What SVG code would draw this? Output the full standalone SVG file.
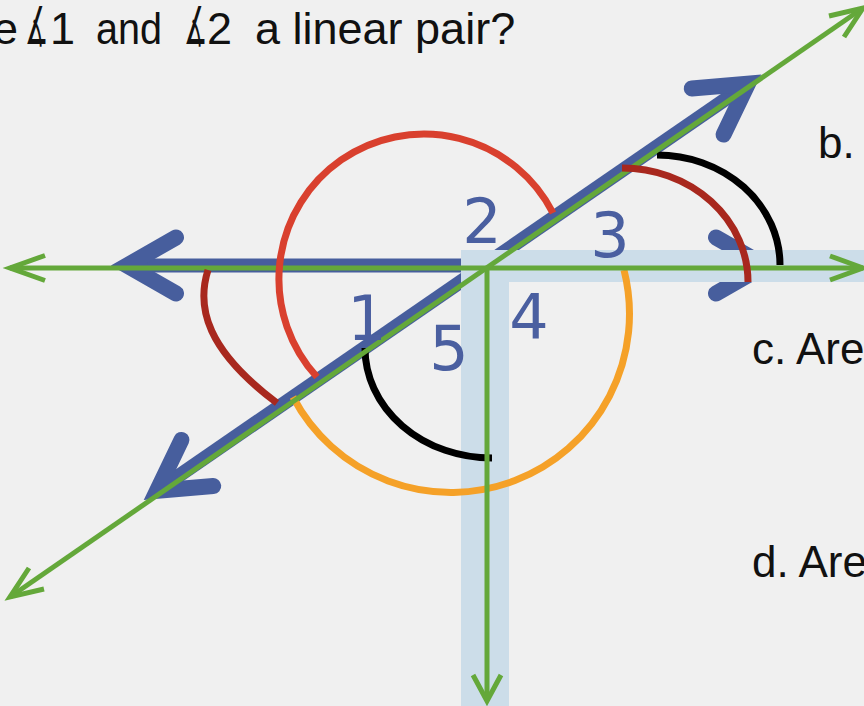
<svg xmlns="http://www.w3.org/2000/svg" xmlns:xlink="http://www.w3.org/1999/xlink" width="864" height="706" viewBox="0 0 864 706">
  <style>
    .txt { font-family: "Liberation Sans", Arial, "DejaVu Sans", sans-serif; fill: #111; }
    .ang { font-family: "DejaVu Sans", sans-serif; fill: #111; font-size: 52px; }
    .num { font-family: "DejaVu Sans", Verdana, sans-serif; font-size: 62px; fill: #4A5FA0; text-anchor: middle; }
    .blue { fill: none; stroke: #475E9D; stroke-width: 14; }
    .bah { fill: none; stroke: #475E9D; stroke-width: 16; stroke-linecap: round; stroke-linejoin: miter; stroke-miterlimit: 6; }
    .green { fill: none; stroke: #64A83A; stroke-width: 5; stroke-linejoin: miter; stroke-miterlimit: 6; }
    .arc { fill: none; stroke-width: 7; stroke-linecap: butt; }
  </style>
  <defs>
    <path id="bah" d="M 66 -28 L 17 0 L 66 28"/>
  </defs>
  <rect x="0" y="0" width="864" height="706" fill="#F0F0F0"/>

  <g id="connectors">
    <g id="blue-rays">
      <line class="blue" x1="127" y1="265.5" x2="475" y2="265.5"/>
      <use xlink:href="#bah" class="bah" transform="translate(110,265.5)"/>
      <line class="blue" x1="157" y1="490.7" x2="748" y2="83.8"/>
      <use xlink:href="#bah" class="bah" transform="translate(143,500.4) rotate(-34.56)"/>
      <use xlink:href="#bah" class="bah" transform="translate(762,74.1) rotate(145.44)"/>
      <use xlink:href="#bah" class="bah" transform="translate(782,265.5) rotate(180)"/>
    </g>
    <path id="band" d="M 461 706 L 461 250 L 864 250 L 864 282 L 509 282 L 509 706 Z" fill="#CCDDE9"/>
    <path class="arc" stroke="#F5A128" d="M 624 270 A 178.5 178.5 0 0 1 293 397"/>
    <path class="arc" stroke="#000000" stroke-width="6" d="M 365 348 A 127 110 0 0 0 492 458"/>
    <path class="arc" stroke="#000000" stroke-width="6" d="M 657 155 A 123 110 0 0 1 780 265"/>
    <g id="green-lines">
      <path class="green" d="M 10 268 H 863"/>
      <path class="green" d="M 45 255.5 L 10 268 L 45 280.5"/>
      <path class="green" d="M 830 256 L 863 268 L 830 280"/>
      <path class="green" d="M 487 268 V 701"/>
      <path class="green" d="M 473 675 L 487 701 L 501 675"/>
      <path class="green" d="M 10 597 L 863 8"/>
      <path class="green" d="M 29 568 L 10 597 L 44 589"/>
      <path class="green" d="M 829 16 L 863 8 L 844 37"/>
    </g>
    <path class="arc" stroke="#D9402E" d="M 553 213 A 145 145 0 1 0 317 377"/>
    <path class="arc" stroke="#A8281E" d="M 622 168 A 126 114 0 0 1 748 282"/>
    <path class="arc" stroke="#A8281E" d="M 208 270 C 196 308, 207 350.5, 277 403"/>
  </g>

  <g id="label-1"><text class="num" x="367" y="340">1</text></g>
  <g id="label-2"><text class="num" x="482" y="243">2</text></g>
  <g id="label-3"><text class="num" x="610" y="257">3</text></g>
  <g id="label-4"><text class="num" x="529" y="339">4</text></g>
  <g id="label-5"><text class="num" x="449" y="370">5</text></g>

  <g id="question">
    <text class="txt" font-size="45" x="-7" y="44">e</text>
    <text class="ang" transform="translate(25,44) scale(0.5,1)">∡</text>
    <text class="txt" font-size="45" x="50" y="44">1</text>
    <text class="txt" font-size="45" x="96" y="44" textLength="66" lengthAdjust="spacingAndGlyphs">and</text>
    <text class="ang" transform="translate(184,44) scale(0.5,1)">∡</text>
    <text class="txt" font-size="45" x="207" y="44">2</text>
    <text class="txt" font-size="45" x="255" y="44">a linear pair?</text>
  </g>
  <g id="text-b"><text class="txt" font-size="44" x="818" y="158">b.</text></g>
  <g id="text-c"><text class="txt" font-size="44" x="752" y="364">c. Are</text></g>
  <g id="text-d"><text class="txt" font-size="44" x="752" y="577">d. Are</text></g>
</svg>
